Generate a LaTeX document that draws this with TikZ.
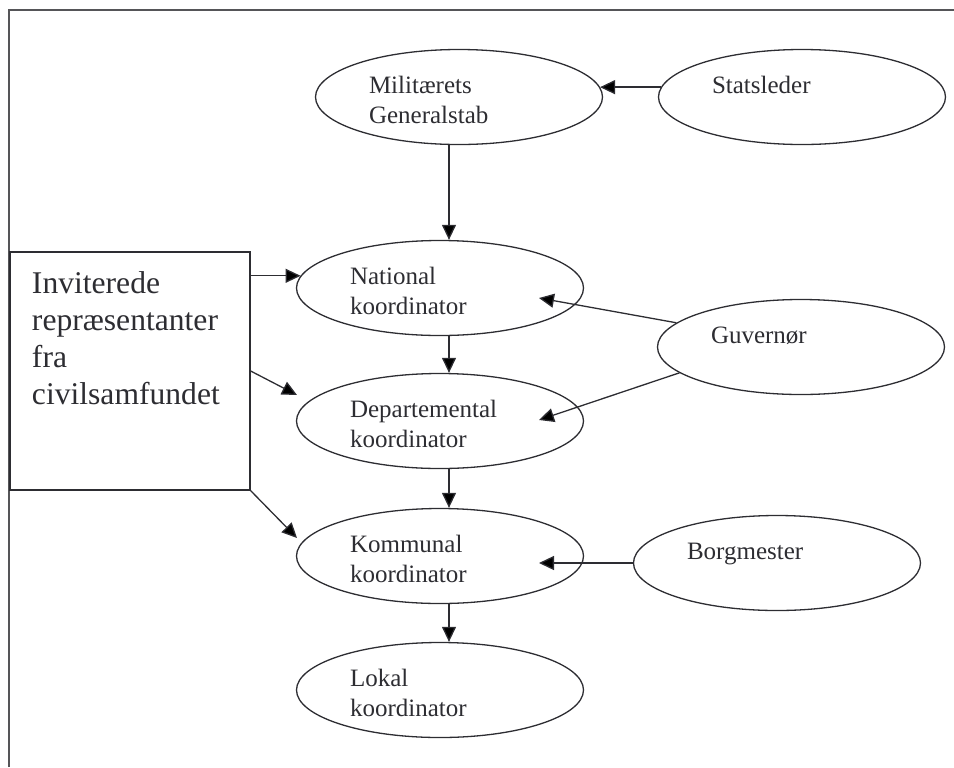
\documentclass[tikz,border=0pt]{standalone}
\usepackage{fontspec}
\setmainfont{Liberation Serif}
\usetikzlibrary{arrows.meta,shapes.geometric,positioning}
\definecolor{ink}{RGB}{45,45,50}
\definecolor{rim}{RGB}{85,85,88}

\begin{document}
\begin{tikzpicture}[x=0.5pt, y=-0.5pt,
                    >={Triangle[length=7.5pt, width=7pt]},
                    koord/.style = {
                      ellipse, draw=ink, text=ink, line width=0.65pt,
                      minimum width=143.5pt, minimum height=47.5pt,
                      inner sep=0pt, text width=90pt, align=left,
                      text height=9pt, text depth=13pt,
                      font=\fontsize{12.5}{15}\selectfont
                    },
                    civil/.style = {
                      rectangle, draw=ink, text=ink, line width=0.65pt,
                      inner xsep=11pt, inner ysep=0pt,
                      text width=98pt, align=left,
                      text height=20.5pt, text depth=98.5pt,
                      font=\fontsize{15.8}{18.5}\selectfont
                    },
                    link/.style = {
                      draw=ink, line width=0.65pt
                    }]
    \useasboundingbox (0,0) rectangle (954,767);
    \draw[rim, line width=0.9pt] (9,767) |- (954,10);

    \node(mil)[koord] at (459,97) {Militærets\\Generalstab};
    \node(stat)[koord] at (802,97) {Statsleder};
    \node(nat)[koord] at (440,288) {National\\koordinator};
    \node(dep)[koord] at (440,421) {Departemental\\koordinator};
    \node(kom)[koord] at (440,556) {Kommunal\\koordinator};
    \node(lok)[koord] at (440,690) {Lokal\\koordinator};
    \node(guv)[koord] at (801,347) {Guvernør};
    \node(borg)[koord] at (777,563) {Borgmester};
    \node(civ)[civil] at (130,371) {Inviterede\\repræsentanter\\fra\\civilsamfundet};

    \coordinate (natin) at ([shift={(99,10)}]nat.center);
    \coordinate (depin) at ([shift={(99,-1)}]dep.center);
    \coordinate (komin) at ([shift={(99,7)}]kom.center);
    \coordinate (depfoot) at ([shift={(-143,-26)}]dep.center);
    \coordinate (komfoot) at ([shift={(-143,-18)}]kom.center);

    \path[link]
      (stat.176) edge[->] (mil.4)
      ([xshift=-5pt]mil.south) edge[->] ([xshift=-5pt]mil.south |- nat.north);
    \foreach \a/\b in {nat/dep, dep/kom, kom/lok}
      \path[link] ([xshift=4.5pt]\a.south) edge[->] ([xshift=4.5pt]\b.north);
    \path[link]
      (guv.169) edge[->] (natin)
      (guv.192) edge[->] (depin)
      (borg.west) edge[->] (komin);
    \path[link]
      (civ.east |- nat.175) edge[->] (nat.175)
      (civ.east) edge[->] (depfoot)
      (civ.south east) edge[->] (komfoot);
  \end{tikzpicture}
\end{document}
